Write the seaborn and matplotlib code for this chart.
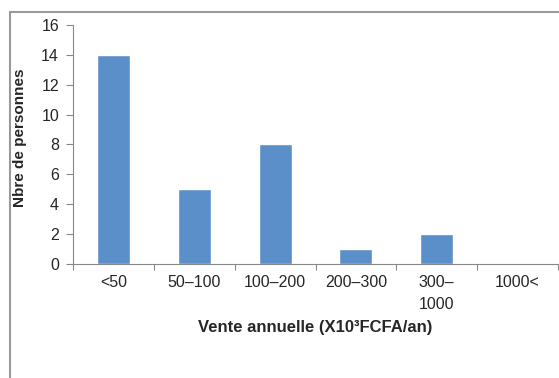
import numpy as np
import pandas as pd
import seaborn as sns
import matplotlib.pyplot as plt
from matplotlib.lines import Line2D

# data
categories = ['<50', '50\u2013100', '100\u2013200', '200\u2013300', '300\u2013\n1000', '1000<']
counts = [14, 5, 8, 1, 2, 0]

sns.set_theme(style='white')
plt.rcParams['font.family'] = ['Liberation Sans', 'DejaVu Sans']

df = pd.DataFrame({'classe': categories, 'n': counts})

fig = plt.figure(figsize=(5.59, 3.78), dpi=100)
ax = fig.add_axes([73 / 559, 1 - 264 / 378, (558 - 73) / 559, (264 - 25) / 378])

sns.barplot(data=df, x='classe', y='n', color='#5B8FC9', width=0.41,
            saturation=1, ax=ax)

ax.set_ylim(0, 16)
ax.set_xlim(-0.5, len(categories) - 0.5)
ax.set_yticks(np.arange(0, 17, 2))
ax.tick_params(axis='y', which='major', length=5, width=0.8, color='#888888',
               labelsize=11.5, pad=5, direction='out', left=True)

# Excel style: ticks between categories, labels centred
ax.set_xticks(np.arange(len(categories)))
ax.set_xticklabels(categories, fontsize=11.5, linespacing=1.55)
ax.tick_params(axis='x', which='major', length=0, pad=8)
ax.set_xticks(np.arange(-0.5, len(categories), 1), minor=True)
ax.tick_params(axis='x', which='minor', length=4, width=0.8, color='#888888',
               direction='out', bottom=True)

for s in ['top', 'right']:
    ax.spines[s].set_visible(False)
for s in ['left', 'bottom']:
    ax.spines[s].set_color('#888888')
    ax.spines[s].set_linewidth(0.8)

ax.set_xlabel('Vente annuelle (X10\u00b3FCFA/an)', fontsize=12, fontweight='bold', labelpad=6)
ax.set_ylabel('Nbre de personnes', fontsize=11, fontweight='bold')
ax.yaxis.set_label_coords(-0.095, 0.527)

# chart area border (left and top visible)
fig.add_artist(Line2D([10 / 559, 10 / 559], [0, 1 - 12 / 378], transform=fig.transFigure,
                      color='#9a9a9a', linewidth=1.5))
fig.add_artist(Line2D([10 / 559, 1], [1 - 12 / 378, 1 - 12 / 378], transform=fig.transFigure,
                      color='#9a9a9a', linewidth=1.5))

fig.savefig('out.png', dpi=100)
